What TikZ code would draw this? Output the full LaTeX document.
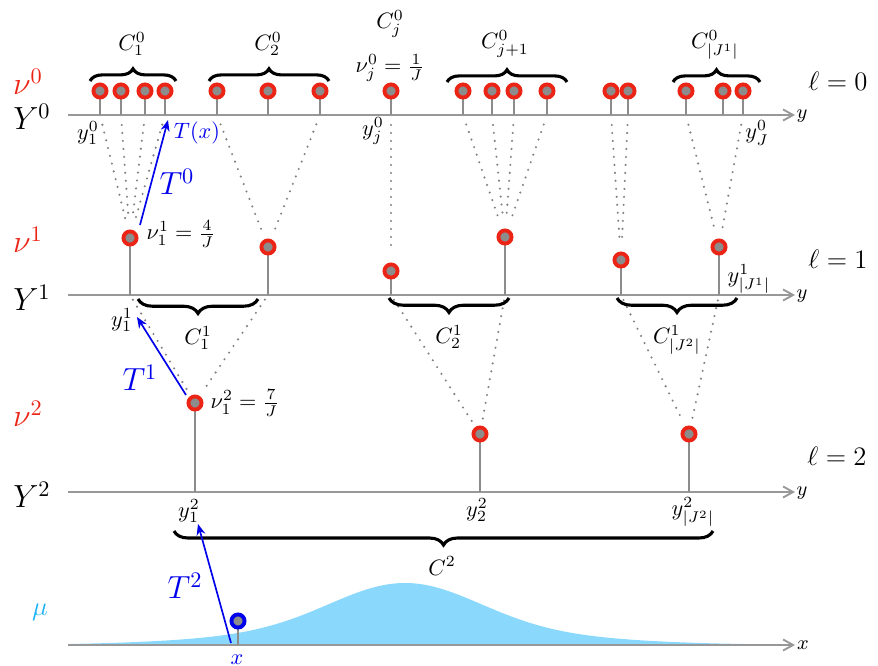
\documentclass[tikz,border=0pt]{standalone}
\usetikzlibrary{arrows.meta,decorations.pathreplacing}
\definecolor{ptred}{RGB}{236,36,22}
\definecolor{ptgray}{RGB}{140,140,140}
\definecolor{axgray}{RGB}{152,152,152}
\definecolor{dotgray}{RGB}{130,130,130}
\definecolor{mucol}{RGB}{25,178,245}
\definecolor{mufill}{RGB}{138,217,252}
\definecolor{tblue}{RGB}{0,0,235}
\begin{document}
\begin{tikzpicture}[x=0.45pt,y=-0.45pt,
  pt/.style={circle, fill=ptgray, draw=ptred, line width=1.75pt, minimum size=5.9pt, inner sep=0pt},
  xpt/.style={pt, draw=tblue},
  stem/.style={draw=ptgray, line width=0.85pt},
  axisline/.style={draw=axgray, line width=0.85pt, -{Straight Barb[length=4.5pt,width=5pt]}},
  dotline/.style={draw=dotgray, line width=1.05pt, dash pattern=on 0pt off 3.6pt, line cap=round},
  braceup/.style={decorate, decoration={brace, amplitude=5.5pt}, line width=1.4pt},
  bracedown/.style={decorate, decoration={brace, mirror, amplitude=6.5pt}, line width=1.4pt},
  Tarrow/.style={draw=tblue, line width=0.75pt, -{Stealth[length=5pt,width=4pt]}},
  lbl/.style={inner sep=0pt},
  blbl/.style={inner sep=0pt, text=tblue},
  rlbl/.style={inner sep=0pt, text=ptred, font=\Large},
  biglbl/.style={inner sep=0pt, font=\Large},
  ellbl/.style={inner sep=0pt, font=\large}
]
\useasboundingbox (0,0) rectangle (878,665);

% density mu
\fill[mufill] (70,645) -- plot[domain=70:790, samples=180] (\x, {645-62*(0.7*exp(-0.5*((\x-405)/72)^2)+0.3*exp(-0.5*((\x-405)/140)^2))}) -- (790,645) -- cycle;

% axes
\coordinate (A0s) at (68,115); \coordinate (A0e) at (795,115);
\coordinate (A1s) at (68,295); \coordinate (A1e) at (795,295);
\coordinate (A2s) at (68,492); \coordinate (A2e) at (795,492);
\coordinate (Xs) at (68,645);  \coordinate (Xe) at (795,645);
\draw[axisline] (A0s) -- (A0e);
\draw[axisline] (A1s) -- (A1e);
\draw[axisline] (A2s) -- (A2e);
\draw[axisline] (Xs) -- (Xe);
\node[lbl, font=\small] (ay0) at (802,116) {$y$};
\node[lbl, font=\small] (ay1) at (802,296) {$y$};
\node[lbl, font=\small] (ay2) at (802,493) {$y$};
\node[lbl, font=\small] (ax) at (803,645) {$x$};

% level 0 points
\foreach \i/\x in {1/100,2/121,3/145,4/165,5/217,6/268,7/320,8/391,9/463,10/492,11/514,12/547,13/611,14/628,15/686,16/723,17/743}{
  \coordinate (p\i) at (\x,115);
  \coordinate (q\i) at (\x,91);
}
% level 1 points
\foreach \i/\x/\y in {1/130/238,2/268/247,3/391/271,4/505/237,5/621/260,6/719/247}{
  \coordinate (r\i) at (\x,295);
  \coordinate (s\i) at (\x,\y);
}
% level 2 points
\foreach \i/\x/\y in {1/195/403,2/480/434,3/689/434}{
  \coordinate (u\i) at (\x,492);
  \coordinate (v\i) at (\x,\y);
}
\coordinate (wx) at (238,645); \coordinate (wxc) at (238,621);

% stems
\foreach \i in {1,...,17}{ \draw[stem] (p\i) -- (q\i); }
\foreach \i in {1,...,6}{ \draw[stem] (r\i) -- (s\i); }
\foreach \i in {1,2,3}{ \draw[stem] (u\i) -- (v\i); }
\draw[stem] (wx) -- (wxc);

% nodes
\foreach \i in {1,...,17}{ \node[pt] (a\i) at (q\i) {}; }
\foreach \i in {1,...,6}{ \node[pt] (b\i) at (s\i) {}; }
\foreach \i in {1,2,3}{ \node[pt] (c\i) at (v\i) {}; }
\node[xpt] (xp) at (wxc) {};

% dotted links level 0 -> level 1
\foreach \i/\j in {1/1,2/1,3/1,4/1,5/2,7/2,8/3,9/4,10/4,11/4,12/4,13/5,14/5,15/6,17/6}{
  \draw[dotline, shorten <=4.5pt, shorten >=4.5pt] (p\i) -- (b\j);
}
% dotted links level 1 -> level 2
\foreach \i/\j in {1/1,2/1,3/2,4/2,5/3,6/3}{
  \draw[dotline, shorten <=2.5pt, shorten >=3pt] (r\i) -- (c\j);
}

% braces
\draw[braceup] (90,81) -- (176,81);
\draw[braceup] (209,81) -- (329,81);
\draw[braceup] (447,82) -- (567,82);
\draw[braceup] (673,82) -- (760,82);
\draw[bracedown] (138,299) -- (258,299);
\draw[bracedown] (389,298) -- (509,298);
\draw[bracedown] (617,298) -- (737,298);
\draw[bracedown, decoration={amplitude=6.3pt}] (174,531) -- (713,531);

% transport arrows
\coordinate (t0s) at (140,225); \coordinate (t0e) at (168,120);
\coordinate (t1s) at (186,395); \coordinate (t1e) at (137,317);
\coordinate (t2s) at (231,643); \coordinate (t2e) at (198,524);
\draw[Tarrow] (t0s) -- (t0e);
\draw[Tarrow] (t1s) -- (t1e);
\draw[Tarrow] (t2s) -- (t2e);

% left labels
\node[rlbl] (nu0) at (28,82) {$\nu^0$};
\node[biglbl] (Y0) at (32,117) {$Y^0$};
\node[rlbl] (nu1) at (28,240) {$\nu^1$};
\node[biglbl] (Y1) at (32,298) {$Y^1$};
\node[rlbl] (nu2) at (28,414) {$\nu^2$};
\node[biglbl] (Y2) at (32,495) {$Y^2$};
\node[inner sep=0pt, text=mucol, font=\large] (mu) at (40,612) {$\mu$};

% right labels
\node[ellbl] (l0) at (838,81) {$\ell=0$};
\node[ellbl] (l1) at (838,259) {$\ell=1$};
\node[ellbl] (l2) at (837,456) {$\ell=2$};

% cluster labels
\node[lbl] (C10) at (132,44) {$C_1^0$};
\node[lbl] (C20) at (268,44) {$C_2^0$};
\node[lbl] (Cj0) at (390,24) {$C_j^0$};
\node[lbl] (nuj) at (390,68) {$\nu_j^0=\frac{1}{J}$};
\node[lbl] (Cj10) at (505,44) {$C_{j+1}^0$};
\node[lbl] (CJ10) at (715,45) {$C_{|J^1|}^0$};
\node[lbl] (C11) at (198,338) {$C_1^1$};
\node[lbl] (C21) at (449,337) {$C_2^1$};
\node[lbl] (CJ21) at (677,340) {$C_{|J^2|}^1$};
\node[lbl] (C2) at (442,566) {$C^2$};

% point labels
\node[lbl] (y10) at (88,133) {$y_1^0$};
\node[lbl] (yj0) at (373,131) {$y_j^0$};
\node[lbl] (yJ0) at (757,133) {$y_J^0$};
\node[lbl] (nu11) at (181,234) {$\nu_1^1=\frac{4}{J}$};
\node[lbl] (y11) at (122,320) {$y_1^1$};
\node[lbl] (yJ11) at (749,279) {$y_{|J^1|}^1$};
\node[lbl] (nu12) at (245,403) {$\nu_1^2=\frac{7}{J}$};
\node[lbl] (y12) at (189,511) {$y_1^2$};
\node[lbl] (y22) at (477,510) {$y_2^2$};
\node[lbl] (yJ22) at (693,512) {$y_{|J^2|}^2$};

% blue labels
\node[blbl] (Tx) at (197,133) {$T(x)$};
\node[blbl, font=\Large] (T0) at (177,182) {$T^0$};
\node[blbl, font=\Large] (T1) at (140,378) {$T^1$};
\node[blbl, font=\Large] (T2) at (185,586) {$T^2$};
\node[blbl] (xl) at (237,660) {$x$};
\end{tikzpicture}
\end{document}
